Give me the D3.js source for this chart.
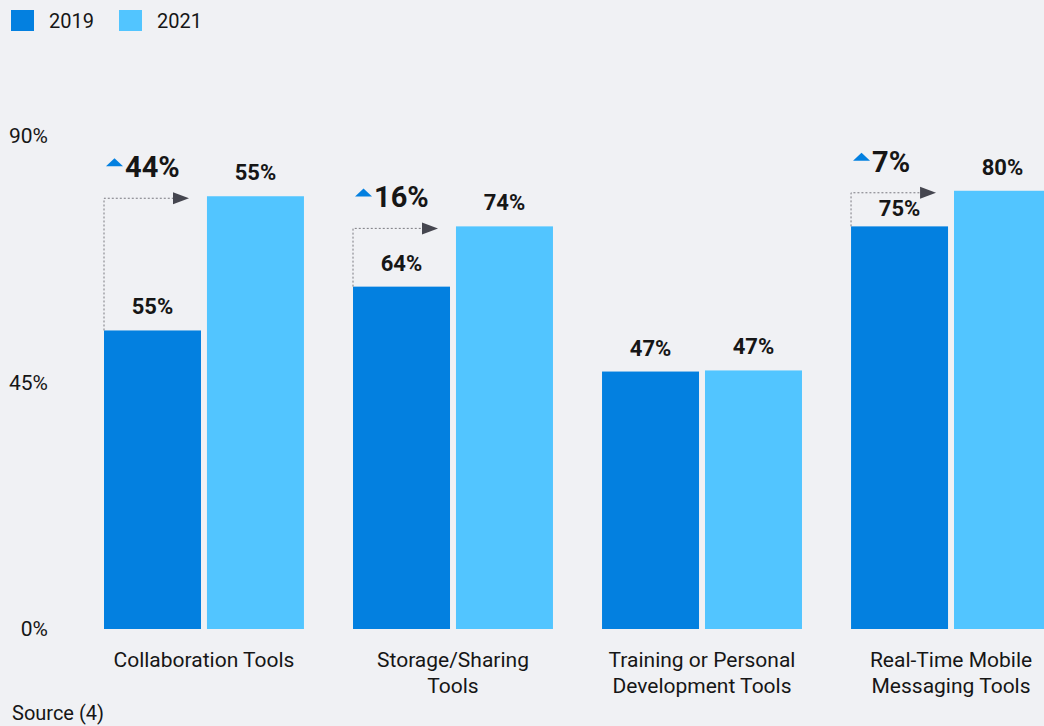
<!DOCTYPE html>
<html>
<head>
<meta charset="utf-8">
<script src="https://cdn.jsdelivr.net/npm/d3@7"></script>
<style>
  html, body { margin: 0; padding: 0; background: #f0f1f4; }
  svg { display: block; font-family: Roboto, "Noto Sans", sans-serif; }
</style>
</head>
<body>
<div id="chart"></div>
<script>
// data
const categories = ["Collaboration Tools", "Storage/Sharing Tools", "Training or Personal Development Tools", "Real-Time Mobile Messaging Tools"];
const categoryLines = [["Collaboration Tools"], ["Storage/Sharing", "Tools"], ["Training or Personal", "Development Tools"], ["Real-Time Mobile", "Messaging Tools"]];
const years = ["2019", "2021"];
const values2019 = [54.5, 62.5, 47, 73.5];
const values2021 = [79, 73.5, 47.2, 80];
const labels2019 = ["55%", "64%", "47%", "75%"];
const labels2021 = ["55%", "74%", "47%", "80%"];
const changes = ["44%", "16%", null, "7%"];
const yTicks = [0, 45, 90];

const width = 1044, height = 726;
const colors = { "2019": "#0380e0", "2021": "#52c5ff" };
const textColor = "#161616";

const data = categories.map((c, i) => ({
  cat: c, lines: categoryLines[i],
  v: { "2019": values2019[i], "2021": values2021[i] },
  l: { "2019": labels2019[i], "2021": labels2021[i] },
  change: changes[i]
}));

const x0 = d3.scaleBand()
  .domain(categories)
  .range([104, 1051])
  .paddingInner(0.197);

const x1 = d3.scaleBand()
  .domain(years)
  .range([0, x0.bandwidth()])
  .paddingInner(0.058);

const y = d3.scaleLinear()
  .domain([0, 90])
  .range([629, 136]);

const svg = d3.select("#chart")
  .append("svg")
  .attr("width", width)
  .attr("height", height)
  .attr("viewBox", [0, 0, width, height]);

// legend
const legend = svg.append("g");
years.forEach((yr, i) => {
  const g = legend.append("g").attr("transform", `translate(${11 + i * 108},10)`);
  g.append("rect").attr("width", 23).attr("height", 21).attr("fill", colors[yr]);
  g.append("text").attr("x", 38).attr("y", 18)
    .attr("font-size", 20).attr("fill", textColor).text(yr);
});

// y axis labels
svg.append("g")
  .attr("transform", "translate(48,0)")
  .call(d3.axisLeft(y).tickValues(yTicks).tickSize(0).tickPadding(0).tickFormat(d => d + "%"))
  .call(g => g.select(".domain").remove())
  .call(g => g.selectAll("text")
    .attr("font-size", 21)
    .attr("font-family", "Roboto, sans-serif")
    .attr("fill", textColor));

// bars
const groups = svg.append("g")
  .selectAll("g")
  .data(data)
  .join("g")
  .attr("transform", d => `translate(${x0(d.cat)},0)`);

groups.selectAll("rect")
  .data(d => years.map(yr => ({ yr, v: d.v[yr], l: d.l[yr] })))
  .join("rect")
  .attr("x", d => x1(d.yr))
  .attr("y", d => y(d.v))
  .attr("width", x1.bandwidth())
  .attr("height", d => y(0) - y(d.v))
  .attr("fill", d => colors[d.yr]);

groups.selectAll("text.val")
  .data(d => years.map(yr => ({ yr, v: d.v[yr], l: d.l[yr], change: d.change })))
  .join("text")
  .attr("class", "val")
  .attr("x", d => x1(d.yr) + x1.bandwidth() / 2)
  .attr("y", d => y(d.v) - (d.yr === "2019" && d.change && y(d.v) < 240 ? 10 : 16))
  .attr("text-anchor", "middle")
  .attr("font-size", 22)
  .attr("font-weight", "bold")
  .attr("fill", textColor)
  .text(d => d.l);

// change annotations
const ann = groups.filter(d => d.change);
const arrowY = d => y(d.v["2021"]) + 2;

ann.append("path")
  .attr("d", d => `M0,${y(d.v["2019"])}V${arrowY(d)}H${x1.bandwidth() - 26}`)
  .attr("fill", "none")
  .attr("stroke", "#7a7a80")
  .attr("stroke-width", 1)
  .attr("stroke-dasharray", "2,2");

ann.append("path")
  .attr("d", d => `M${x1.bandwidth() - 28},${arrowY(d) - 6}L${x1.bandwidth() - 12},${arrowY(d)}L${x1.bandwidth() - 28},${arrowY(d) + 6}Z`)
  .attr("fill", "#45464f");

ann.append("path")
  .attr("d", d => `M2,${arrowY(d) - 32}L10.5,${arrowY(d) - 40}L19,${arrowY(d) - 32}Z`)
  .attr("fill", colors["2019"]);

ann.append("text")
  .attr("x", 21)
  .attr("y", d => arrowY(d) - 21)
  .attr("font-size", 29)
  .attr("font-weight", "bold")
  .attr("fill", textColor)
  .text(d => d.change);

// category labels
groups.append("text")
  .attr("text-anchor", "middle")
  .attr("font-size", 21)
  .attr("fill", textColor)
  .attr("y", 667)
  .selectAll("tspan")
  .data(d => d.lines.map(t => ({ t, c: x0.bandwidth() / 2 })))
  .join("tspan")
  .attr("x", d => d.c)
  .attr("dy", (d, i) => i === 0 ? 0 : 26)
  .text(d => d.t);

// source
svg.append("text")
  .attr("x", 12)
  .attr("y", 720)
  .attr("font-size", 20)
  .attr("fill", textColor)
  .text("Source (4)");
</script>
</body>
</html>
